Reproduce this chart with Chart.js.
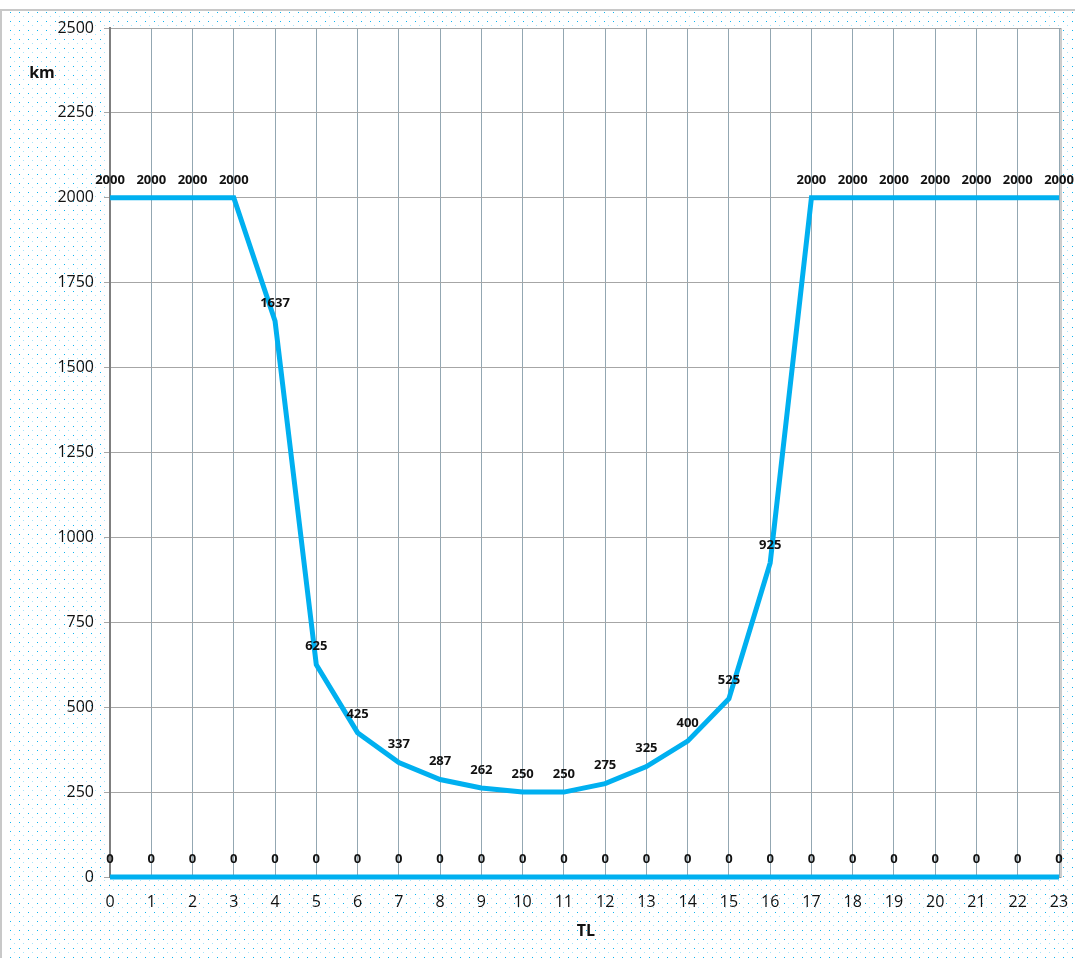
<!DOCTYPE html>
<html>
<head>
<meta charset="utf-8">
<script src="https://cdn.jsdelivr.net/npm/chart.js@4/dist/chart.umd.min.js"></script>
<style>
  html, body { margin: 0; padding: 0; background: #fff; }
  #chart { display: block; }
</style>
</head>
<body>
<canvas id="chart" width="1075" height="958"></canvas>
<script>
// hours of the day (TL)
const hours = ['0','1','2','3','4','5','6','7','8','9','10','11','12','13','14','15','16','17','18','19','20','21','22','23'];
// range in km
const rangeKm = [2000, 2000, 2000, 2000, 1637, 625, 425, 337, 287, 262, 250, 250, 275, 325, 400, 525, 925, 2000, 2000, 2000, 2000, 2000, 2000, 2000];
const baseline = [0, 0, 0, 0, 0, 0, 0, 0, 0, 0, 0, 0, 0, 0, 0, 0, 0, 0, 0, 0, 0, 0, 0, 0];
const yTicks = [0, 250, 500, 750, 1000, 1250, 1500, 1750, 2000, 2250, 2500];

const lineColor = '#00b0f0';
const font = '"Open Sans", "DejaVu Sans", sans-serif';

// dotted paper background, white plot area, outer frame
const backdrop = {
  id: 'backdrop',
  beforeDraw(chart) {
    const { ctx, chartArea: a, width, height } = chart;
    ctx.save();
    ctx.fillStyle = '#fff';
    ctx.fillRect(0, 0, width, height);
    for (let y = 12; y < height; y += 9) {
      for (let x = 10; x < width; x += 9) {
        ctx.fillStyle = 'rgba(0,176,240,0.95)';
        ctx.fillRect(x, y, 1, 1);
        ctx.fillStyle = 'rgba(0,176,240,0.35)';
        ctx.fillRect(x + 4, y + 4, 1, 1);
      }
    }
    ctx.fillStyle = '#fff';
    ctx.fillRect(a.left, a.top, a.right - a.left + 2, a.bottom - a.top);
    ctx.strokeStyle = '#c8c8c8';
    ctx.lineWidth = 2;
    ctx.beginPath();
    ctx.moveTo(1, height);
    ctx.lineTo(1, 10);
    ctx.lineTo(width, 10);
    ctx.stroke();
    ctx.strokeStyle = '#9a9a9a';
    ctx.lineWidth = 1;
    ctx.strokeRect(a.left, a.top + 0.5, a.right - a.left + 2, a.bottom - a.top);
    ctx.restore();
  }
};

// value labels above each point, plus axis titles
const valueLabels = {
  id: 'valueLabels',
  afterDatasetsDraw(chart) {
    const { ctx } = chart;
    ctx.save();
    ctx.font = 'bold 13px ' + font;
    ctx.fillStyle = '#111';
    ctx.textAlign = 'center';
    ctx.textBaseline = 'middle';
    chart.data.datasets.forEach((ds, i) => {
      chart.getDatasetMeta(i).data.forEach((pt, j) => {
        ctx.fillText(String(ds.data[j]), pt.x, pt.y - 18);
      });
    });
    ctx.font = 'bold 16px ' + font;
    ctx.fillText('km', 42, 73);
    ctx.fillText('TL', 586, 931);
    ctx.restore();
  }
};

new Chart(document.getElementById('chart'), {
  type: 'line',
  data: {
    labels: hours,
    datasets: [
      {
        label: 'km',
        data: rangeKm,
        borderColor: lineColor,
        borderWidth: 5,
        pointRadius: 0,
        tension: 0,
        clip: false
      },
      {
        label: 'base',
        data: baseline,
        borderColor: lineColor,
        borderWidth: 5,
        pointRadius: 0,
        tension: 0,
        clip: false
      }
    ]
  },
  options: {
    responsive: false,
    animation: false,
    devicePixelRatio: 1,
    layout: { padding: { left: 0, top: 28, right: 16, bottom: 0 } },
    plugins: {
      legend: { display: false },
      tooltip: { enabled: false }
    },
    scales: {
      x: {
        type: 'category',
        offset: false,
        grid: { color: '#93a7b2', lineWidth: 1, drawTicks: false },
        border: { display: false },
        ticks: { color: '#111', padding: 16, maxRotation: 0, autoSkip: false, font: { family: font, size: 16 } },
        afterFit(scale) {
          scale.height = 81;
          scale.paddingLeft = 0;
          scale.paddingRight = 0;
        }
      },
      y: {
        min: 0,
        max: 2500,
        afterBuildTicks(scale) { scale.ticks = yTicks.map(v => ({ value: v })); },
        grid: { color: '#a6a6a6', lineWidth: 1, tickLength: 6, tickColor: '#a6a6a6' },
        border: { color: '#7f7f7f', width: 2 },
        ticks: { color: '#111', padding: 10, font: { family: font, size: 16 }, callback: v => String(v) },
        afterFit(scale) {
          scale.width = 110;
          scale.paddingTop = 0;
          scale.paddingBottom = 0;
        }
      }
    }
  },
  plugins: [backdrop, valueLabels]
});
</script>
</body>
</html>
